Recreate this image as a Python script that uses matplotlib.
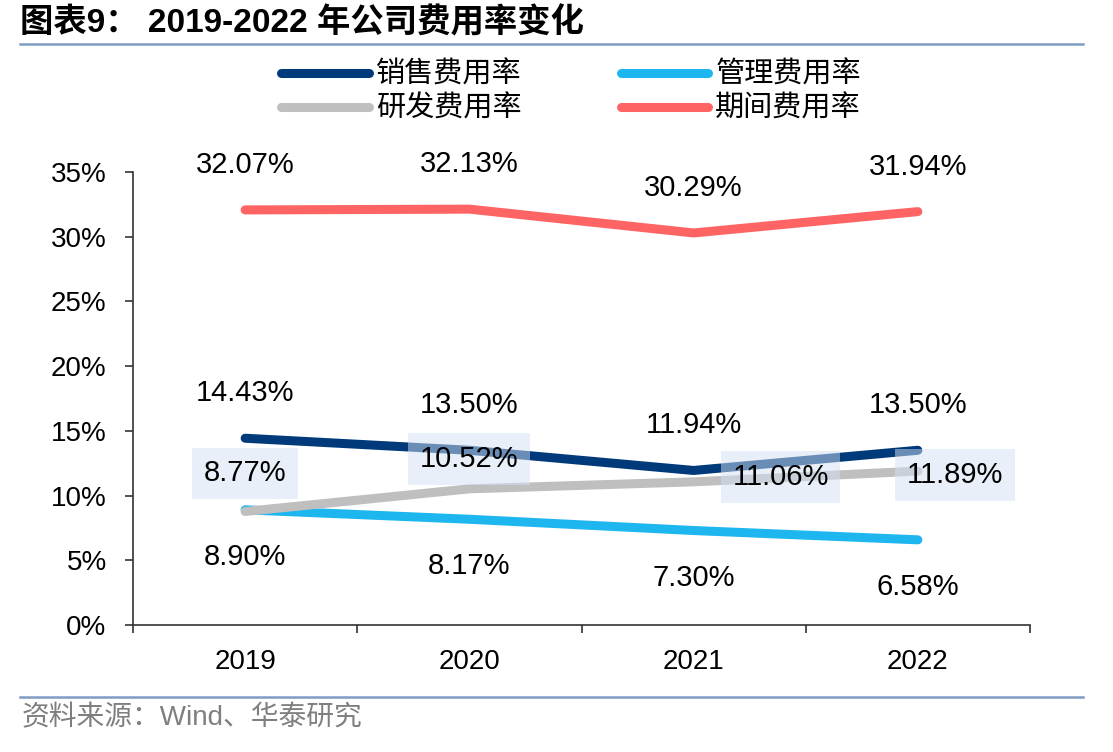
import matplotlib
matplotlib.use("Agg")
import matplotlib.pyplot as plt
from matplotlib.lines import Line2D
from matplotlib.ticker import FuncFormatter, FixedLocator

plt.rcParams['font.family'] = ['Liberation Sans', 'Noto Sans CJK SC', 'DejaVu Sans']

years = ['2019', '2020', '2021', '2022']
sales = [14.43, 13.50, 11.94, 13.50]      # 销售费用率
admin = [8.90, 8.17, 7.30, 6.58]          # 管理费用率
rnd = [8.77, 10.52, 11.06, 11.89]         # 研发费用率
period = [32.07, 32.13, 30.29, 31.94]     # 期间费用率
series_names = ['销售费用率', '管理费用率', '研发费用率', '期间费用率']
yticks = [0, 5, 10, 15, 20, 25, 30, 35]

colors = {'sales': '#003A7A', 'admin': '#1DB6EF', 'rnd': '#BFBFBF', 'period': '#FF6464'}

W, H = 1113, 752
fig = plt.figure(figsize=(W / 100, H / 100), dpi=100)
ax = fig.add_axes([133 / W, 1 - 625 / H, (1030 - 133) / W, (625 - 172) / H])

x = list(range(len(years)))
lw = 6.5
ax.plot(x, period, color=colors['period'], lw=lw, solid_capstyle='round', zorder=3)
ax.plot(x, admin, color=colors['admin'], lw=lw, solid_capstyle='round', zorder=3)
ax.plot(x, sales, color=colors['sales'], lw=lw, solid_capstyle='round', zorder=3)
ax.plot(x, rnd, color=colors['rnd'], lw=lw, solid_capstyle='round', zorder=4)

ax.set_xlim(-0.5, len(years) - 0.5)
ax.set_ylim(0, 35)

fs = 20
lfs = 21
for i in x:
    ax.annotate(f'{period[i]:.2f}%', (i, period[i]), xytext=(0, 45), textcoords='offset pixels',
                ha='center', va='center', fontsize=lfs, color='black', zorder=6)
    ax.annotate(f'{sales[i]:.2f}%', (i, sales[i]), xytext=(0, 45), textcoords='offset pixels',
                ha='center', va='center', fontsize=lfs, color='black', zorder=6)
    ax.annotate(f'{admin[i]:.2f}%', (i, admin[i]), xytext=(0, -47), textcoords='offset pixels',
                ha='center', va='center', fontsize=lfs, color='black', zorder=6)

rnd_offsets = [(0, 38), (0, 30), (87, 5), (37, -4)]
for i in x:
    dx, dy = rnd_offsets[i]
    ax.annotate(f'{rnd[i]:.2f}%', (i, rnd[i]), xytext=(dx, dy), textcoords='offset pixels',
                ha='center', va='center', fontsize=lfs, color='black', zorder=6,
                bbox=dict(boxstyle='square,pad=0.4', facecolor=(0.835, 0.882, 0.953, 0.5),
                          edgecolor='none'))

# axes styling
for s in ['top', 'right']:
    ax.spines[s].set_visible(False)
for s in ['left', 'bottom']:
    ax.spines[s].set_color('#333333')
    ax.spines[s].set_linewidth(1.2)

ax.yaxis.set_major_locator(FixedLocator(yticks))
ax.yaxis.set_major_formatter(FuncFormatter(lambda v, p: f'{v:.0f}%'))
ax.tick_params(axis='y', direction='out', length=6, width=1.2, color='#333333', pad=13,
               labelsize=fs)

ax.set_xticks(x)
ax.set_xticklabels(years)
ax.set_xticks([i - 0.5 for i in range(len(years) + 1)], minor=True)
ax.tick_params(axis='x', which='major', length=0, pad=17, labelsize=fs)
ax.tick_params(axis='x', which='minor', direction='out', length=6, width=1.2, color='#333333')

# legend
handles = [Line2D([], [], color=colors['sales'], lw=lw, solid_capstyle='round'),
           Line2D([], [], color=colors['rnd'], lw=lw, solid_capstyle='round'),
           Line2D([], [], color=colors['admin'], lw=lw, solid_capstyle='round'),
           Line2D([], [], color=colors['period'], lw=lw, solid_capstyle='round')]
labels = [series_names[0], series_names[2], series_names[1], series_names[3]]
fig.legend(handles, labels, loc='center', bbox_to_anchor=(571 / W, 1 - 92 / H), ncol=2,
           frameon=False, handlelength=3.0, handletextpad=0.25,
           columnspacing=3.4, labelspacing=0.14, borderpad=0, borderaxespad=0,
           prop={'family': ['Noto Sans CJK SC'], 'size': 21})

# title and rules
fig.text(20 / W, 1 - 23 / H, '图表9： 2019-2022 年公司费用率变化', fontsize=24, fontweight='bold',
         ha='left', va='center', color='black')
fig.add_artist(Line2D([20 / W, 1083 / W], [1 - 44 / H, 1 - 44 / H], color='#7F9DC4', lw=1.8))
fig.add_artist(Line2D([20 / W, 1083 / W], [1 - 697 / H, 1 - 697 / H], color='#7F9DC4', lw=1.8))
fig.text(22 / W, 1 - 718 / H, '资料来源：Wind、华泰研究', fontsize=20, ha='left', va='center',
         color='#7F7F7F')

fig.savefig('out.png', dpi=100)
